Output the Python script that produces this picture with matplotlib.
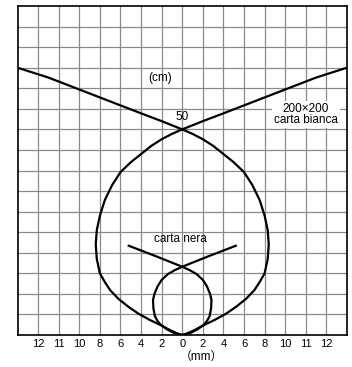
import matplotlib
matplotlib.use("Agg")
import matplotlib.pyplot as plt
import numpy as np

plt.rcParams['font.family'] = ['Liberation Sans', 'Noto Sans CJK JP', 'DejaVu Sans']

# x positions are in grid columns (one column per tick), y in cm
tick_pos = list(range(-7, 8))
tick_labels = ["12", "11", "10", "8", "6", "4", "2", "0", "2", "4", "6", "8", "10", "11", "12"]

# white paper 200x200 (carta bianca): arm from upper left crossing into right lobe
white_a_x = [-8, -6.5, -5, -3.5, -2, -1, 0, 0.5, 1, 1.5, 2, 2.5, 3, 3.4, 3.76, 4.0, 4.15, 4.2,
             4.15, 4.0, 3.75, 3.5, 3.1, 2.6, 2.1, 1.55, 1.0, 0.6, 0.25, 0]
white_a_y = [65, 62.6, 59.7, 56.8, 53.9, 52, 50, 48.9, 47.6, 46, 44, 42, 39.6, 36.5, 32.8, 29, 25.5, 22,
             18.5, 15, 12.8, 10.9, 8.8, 6.8, 5.1, 3.6, 2.3, 1.2, 0.4, 0]
# arm from upper right crossing into left lobe
white_b_x = [8, 6.5, 5, 3.5, 2, 1, 0, -0.5, -1, -1.5, -2, -2.5, -3, -3.4, -3.76, -4.0, -4.15, -4.2,
             -4.15, -4.0, -3.75, -3.5, -3.1, -2.6, -2.1, -1.55, -1.0, -0.6, -0.25, 0]
white_b_y = [65, 62.6, 59.7, 56.8, 53.9, 52, 50, 48.9, 47.6, 46, 44, 42, 39.6, 36.5, 32.8, 29, 25.5, 22,
             18.5, 15, 12.8, 10.9, 8.8, 6.8, 5.1, 3.6, 2.3, 1.2, 0.4, 0]

# black paper (carta nera)
black_a_x = [-2.65, -1.3, 0, 0.35, 0.7, 1.0, 1.2, 1.35, 1.42, 1.4, 1.33, 1.2, 1.05, 0.75, 0.4, 0]
black_a_y = [21.8, 19.2, 16.6, 15.8, 14.8, 13.4, 11.8, 10.0, 8.5, 6.5, 4.6, 3.4, 2.5, 1.4, 0.5, 0]
black_b_x = [2.65, 1.3, 0, -0.35, -0.7, -1.0, -1.2, -1.35, -1.42, -1.4, -1.33, -1.2, -1.05, -0.75, -0.4, 0]
black_b_y = [21.8, 19.2, 16.6, 15.8, 14.8, 13.4, 11.8, 10.0, 8.5, 6.5, 4.6, 3.4, 2.5, 1.4, 0.5, 0]

fig = plt.figure(figsize=(3.52, 3.67), dpi=100)
ax = fig.add_axes([17.5 / 352, 1 - 335 / 367, (347 - 17.5) / 352, (335 - 6) / 367])
ax.set_xlim(-8, 8)
ax.set_ylim(0, 80)

for v in range(-7, 8):
    ax.axvline(v, color='#8a8a8a', lw=0.9, zorder=1)
for h in range(5, 80, 5):
    ax.axhline(h, color='#8a8a8a', lw=0.9, zorder=1)

for xs, ys in [(white_a_x, white_a_y), (white_b_x, white_b_y),
               (black_a_x, black_a_y), (black_b_x, black_b_y)]:
    ax.plot(xs, ys, color='black', lw=1.6, solid_joinstyle='round', solid_capstyle='butt', zorder=3)

for s in ax.spines.values():
    s.set_color('black')
    s.set_linewidth(1.2)

ax.set_xticks(tick_pos)
ax.set_xticklabels(tick_labels, fontsize=8)
ax.tick_params(axis='x', length=0, pad=3)
ax.set_yticks([])

ax.text(-1.07, 62.6, "(cm)", fontsize=8.5, ha='center', va='center', zorder=4)
ax.text(0, 52.9, "50", fontsize=8.5, ha='center', va='center', zorder=4)
ax.text(6.0, 53.6, "200×200\ncarta bianca", fontsize=8.5, ha='center', va='center',
        linespacing=0.95, zorder=4,
        bbox=dict(boxstyle='square,pad=0.15', fc='white', ec='none'))
ax.text(-0.1, 23.3, "carta nera", fontsize=8.5, ha='center', va='center', zorder=4)
ax.text(0.95, -5.4, "（mm）", fontsize=8.5, ha='center', va='center', clip_on=False)

fig.savefig("out.png", dpi=100)
